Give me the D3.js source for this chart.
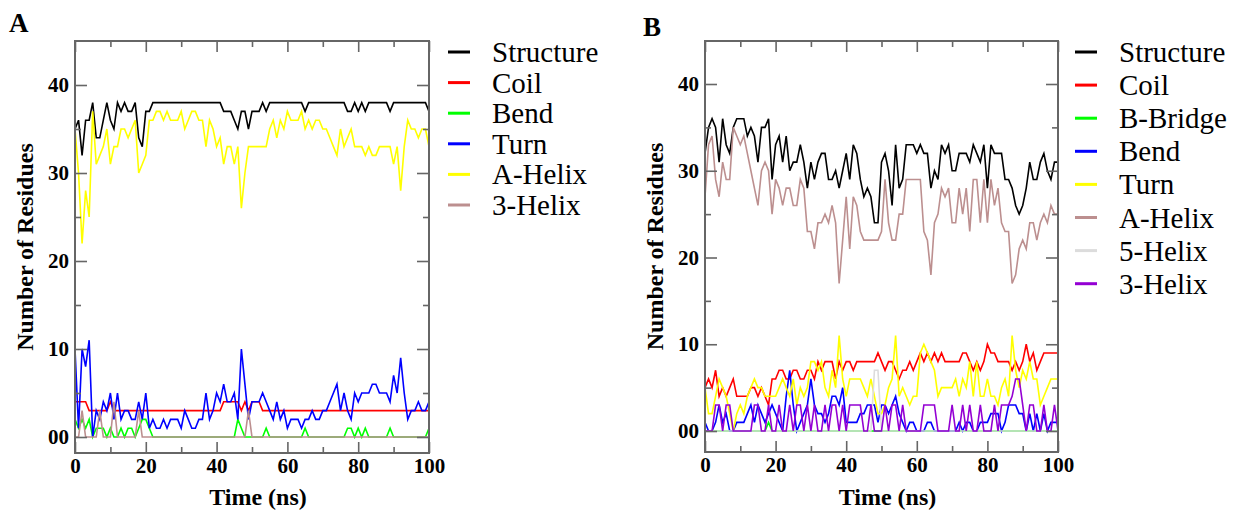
<!DOCTYPE html>
<html>
<head>
<meta charset="utf-8">
<script src="https://cdn.jsdelivr.net/npm/d3@7"></script>
<style>
    body { margin: 0; background: #fff; }
    svg { display: block; }
</style>
</head>
<body>
<div id="chart"></div>
<script>
// time axis (ns), one frame per ns
var time = d3.range(0, 101);
var xTicksMajor = [0, 20, 40, 60, 80, 100];
var xTicksMinor = [10, 30, 50, 70, 90];
var yTicksMajor = [0, 10, 20, 30, 40];
var yTicksMinor = [5, 15, 25, 35];

// ---- panel A data (number of residues) ----
var namesA = ["Structure", "Coil", "Bend", "Turn", "A-Helix", "3-Helix"];
var structA = [35,36,32,36,36,38,34,34,36,38, 36,35,38,37,38,37,37,38,34,33,
    37,37,38,38,38,38,38,38,38,38, 38,38,38,38,38,38,38,38,38,38,
    38,38,37,37,37,36,35,37,37,35, 37,37,37,38,37,38,38,38,38,38,
    38,38,38,38,38,37,38,38,38,38, 38,38,38,38,38,38,38,37,37,38,
    37,38,37,38,38,38,38,38,38,37, 38,38,38,38,38,38,38,38,38,38, 37];
var coilA = [4,4,4,4,3,3,3,3,3,3, 4,3,3,3,3,3,3,3,3,3,
    3,3,3,3,3,3,3,3,3,3, 3,3,3,3,3,3,3,3,3,3,
    3,3,4,4,4,4,4,3,4,3, 4,4,4,3,3,3,3,3,3,3,
    3,3,3,3,3,3,3,3,3,3, 3,3,3,3,3,3,3,3,3,3,
    3,3,3,3,3,3,3,3,3,3, 3,3,3,3,3,3,3,3,3,3, 3];
var bendA = [2,1,2,1,2,0,1,1,1,0, 1,0,0,1,0,1,1,0,1,2,
    2,1,0,0,0,0,0,0,0,0, 0,0,0,0,0,0,0,0,0,0,
    0,0,0,0,0,0,2,1,0,0, 0,0,0,0,1,0,0,0,0,0,
    0,0,0,0,0,1,0,0,0,0, 0,0,0,0,0,0,0,1,1,0,
    1,0,1,0,0,0,0,0,0,1, 0,0,0,0,0,0,0,0,0,0, 1];
var turnA = [10,1,10,8,11,0,3,2,4,3, 5,2,5,2,3,3,2,2,4,2,
    5,1,2,1,1,2,1,2,2,2, 1,3,2,1,1,2,2,5,2,3,
    5,4,6,4,4,5,2,10,6,2, 4,4,4,5,4,3,2,4,2,3,
    1,2,2,2,1,2,2,3,2,2, 3,3,4,5,6,3,5,3,2,5,
    4,5,5,5,6,6,5,5,5,4, 7,5,9,5,2,3,3,4,3,3, 4];
var aHelixA = [35,30,22,28,25,37,31,32,33,35, 31,33,33,35,35,34,35,36,30,31,
    32,36,36,37,37,36,37,36,36,36, 37,35,36,37,37,36,36,33,36,35,
    33,34,31,33,33,31,33,26,30,33, 33,33,33,33,33,35,36,34,36,35,
    37,36,36,36,37,35,36,35,36,36, 35,35,34,33,32,35,33,34,35,33,
    33,33,32,33,32,32,33,33,33,33, 31,33,28,33,36,35,35,34,35,35, 33];
var helix3A = [0,0,3,0,0,0,0,3,0,0, 0,4,0,0,0,0,0,0,3,0,
    0,0,0,0,0,0,0,0,0,0, 0,0,0,0,0,0,0,0,0,0,
    0,0,0,0,0,0,0,0,0,3, 0,0,0,0,0,0,0,0,0,0,
    0,0,0,0,0,0,0,0,0,0, 0,0,0,0,0,0,0,0,0,0,
    0,0,0,0,0,0,0,0,0,0, 0,0,0,0,0,0,0,0,0,0, 0];

// ---- panel B data (number of residues) ----
var namesB = ["Structure", "Coil", "B-Bridge", "Bend", "Turn", "A-Helix", "5-Helix", "3-Helix"];
var structB = [32,35,36,35,31,36,33,32,35,36, 36,36,34,35,34,31,35,35,36,29,
    33,34,31,34,30,31,31,33,31,28, 31,29,31,32,32,29,29,30,28,30,
    32,29,33,32,29,27,28,27,24,24, 31,32,30,26,33,28,29,33,33,33,
    32,33,32,32,28,30,29,33,32,33, 30,30,32,32,32,31,33,32,31,33,
    28,33,32,32,32,29,29,28,26,25, 26,28,31,29,29,31,32,30,29,31, 31];
var coilB = [5,6,5,7,4,5,4,5,6,4, 4,4,4,5,5,4,5,4,3,6,
    6,7,7,6,6,7,7,6,6,7, 7,6,8,7,8,8,8,6,8,7,
    8,8,7,8,8,8,8,8,8,9, 8,7,8,8,7,6,7,7,8,7,
    8,9,8,9,8,9,8,9,8,8, 8,8,8,9,9,8,7,8,7,8,
    10,9,9,8,8,8,8,7,8,7, 8,10,8,9,7,8,9,9,9,9, 9];
var bridgeB = [0,0,0,0,0,0,0,0,0,0, 0,0,0,0,0,0,0,0,1,0,
    0,0,0,0,0,0,0,0,0,0, 0,0,0,0,0,0,0,0,0,0,
    0,0,0,0,0,0,0,0,0,0, 0,0,0,0,0,0,0,0,0,0,
    0,0,0,0,0,0,0,0,0,0, 0,0,0,0,0,0,0,0,0,0,
    0,0,0,0,0,0,0,0,0,0, 0,0,0,0,0,0,0,0,0,0, 0];
var bendB = [1,0,0,1,3,1,2,0,0,1, 1,1,2,3,1,3,2,1,2,3,
    2,1,0,4,7,3,0,1,2,3, 6,3,2,2,1,2,4,4,3,5,
    1,1,1,1,2,2,3,3,3,1, 3,3,2,3,4,2,1,0,1,1,
    0,0,0,1,1,0,0,0,0,0, 0,0,1,0,1,1,0,0,1,1,
    1,2,2,2,0,1,3,3,3,2, 2,0,2,0,2,0,2,0,1,1, 1];
var turnB = [5,2,2,4,6,5,4,2,0,2, 3,2,4,5,6,5,5,4,4,4,
    4,5,6,5,4,6,3,5,4,5, 8,8,7,8,5,4,7,5,11,6,
    4,6,6,6,6,5,4,6,4,2, 2,3,5,6,11,4,5,4,3,4,
    4,9,10,9,8,7,4,5,5,5, 5,6,4,6,5,8,4,8,4,4,
    6,4,4,3,5,6,4,11,7,5, 7,6,8,6,6,3,4,5,6,6, 6];
var aHelixB = [27,33,34,29,27,31,29,29,35,34, 33,34,32,30,28,26,30,31,30,25,
    29,28,26,28,28,26,26,29,28,23, 23,21,24,24,25,24,26,24,17,22,
    27,21,27,26,23,22,22,22,22,22, 23,29,24,22,22,25,25,29,29,29,
    29,29,23,22,18,24,25,28,27,28, 24,24,28,25,28,23,29,29,24,29,
    24,29,26,28,24,23,23,17,18,21, 22,21,24,24,22,24,25,24,26,25, 25];
var helix5B = [0,0,0,0,0,0,0,0,0,0, 0,0,0,0,0,0,0,0,0,0,
    0,0,0,0,0,0,0,0,0,0, 0,0,0,0,0,0,0,0,0,0,
    0,0,0,0,0,0,0,0,7,7, 0,0,0,0,0,0,0,0,0,0,
    0,0,0,0,0,0,0,0,0,0, 0,0,0,0,0,0,0,0,0,0,
    0,0,0,0,0,0,0,0,0,0, 0,0,0,0,0,0,0,0,0,0, 0];
var helix3B = [0,0,0,3,3,0,3,3,0,0, 0,0,0,0,3,3,0,0,3,0,
    0,3,0,0,3,0,3,3,0,3, 0,3,0,0,3,0,3,3,0,3,
    0,3,3,3,3,0,0,3,0,0, 0,3,0,3,3,0,3,0,0,0,
    0,0,3,3,3,3,0,0,0,0, 3,0,0,3,0,3,0,0,3,0,
    0,0,3,0,3,3,3,4,6,6, 3,0,3,3,0,0,3,0,0,3, 0];

// grace-like line colours
var colorsA = ["#000000", "#ff0000", "#00ff00", "#0000ff", "#ffff00", "#bc8f8f"];
var colorsB = ["#000000", "#ff0000", "#00ff00", "#0000ff", "#ffff00", "#bc8f8f", "#dcdcdc", "#9400d3"];

var width = 1244, height = 515;
var serif = "'Liberation Serif', 'Times New Roman', serif";
var svg;

function init() {
    svg = d3.select("#chart").append("svg")
        .attr("width", width)
        .attr("height", height);

    drawPanel({
        id: "A", label: "A", labelX: 9, labelY: 32,
        left: 75, right: 429, top: 41, bottom: 453, y0: 437, y40: 85,
        names: namesA, colors: colorsA,
        series: [structA, coilA, bendA, turnA, aHelixA, helix3A],
        legendX: 448, legendY: 52, legendStep: 30.6, yLabelX: 33
    });

    drawPanel({
        id: "B", label: "B", labelX: 643, labelY: 36,
        left: 705, right: 1058, top: 41, bottom: 452, y0: 431, y40: 84,
        names: namesB, colors: colorsB,
        series: [structB, coilB, bridgeB, bendB, turnB, aHelixB, helix5B, helix3B],
        legendX: 1075, legendY: 52, legendStep: 33.1, yLabelX: 663
    });
}

function styleAxis(g) {
    g.select(".domain").remove();
    g.selectAll(".tick line").attr("stroke", "#666").attr("stroke-width", 1.6);
    g.selectAll(".tick text")
        .attr("font-family", serif)
        .attr("font-weight", "bold")
        .attr("font-size", 21)
        .attr("fill", "#000");
}

function drawPanel(p) {
    var x = d3.scaleLinear().domain([0, 100]).range([p.left, p.right]);
    var y = d3.scaleLinear().domain([0, 40]).range([p.y0, p.y40]);

    var g = svg.append("g").attr("class", "panel-" + p.id);

    // clip for the data lines
    g.append("clipPath").attr("id", "clip" + p.id)
        .append("rect")
        .attr("x", p.left).attr("y", p.top)
        .attr("width", p.right - p.left).attr("height", p.bottom - p.top);

    var line = d3.line()
        .x(function (d, i) { return x(time[i]); })
        .y(function (d) { return y(d); });

    var lines = g.append("g").attr("clip-path", "url(#clip" + p.id + ")");
    p.series.forEach(function (s, i) {
        lines.append("path")
            .datum(s)
            .attr("d", line)
            .attr("fill", "none")
            .attr("stroke", p.colors[i])
            .attr("stroke-width", 1.6)
            .attr("stroke-linejoin", "miter");
    });

    // axes: major + minor ticks, all pointing inwards
    var fmtY = function (d) { return d === 0 ? "00" : d; };
    g.append("g").attr("transform", "translate(" + p.left + ",0)")
        .call(d3.axisLeft(y).tickValues(yTicksMajor).tickSize(-12).tickPadding(6).tickFormat(fmtY))
        .call(styleAxis);
    g.append("g").attr("transform", "translate(" + p.left + ",0)")
        .call(d3.axisLeft(y).tickValues(yTicksMinor).tickSize(-6).tickFormat(""))
        .call(styleAxis);
    g.append("g").attr("transform", "translate(" + p.right + ",0)")
        .call(d3.axisRight(y).tickValues(yTicksMajor).tickSize(-12).tickFormat(""))
        .call(styleAxis);
    g.append("g").attr("transform", "translate(" + p.right + ",0)")
        .call(d3.axisRight(y).tickValues(yTicksMinor).tickSize(-6).tickFormat(""))
        .call(styleAxis);

    g.append("g").attr("transform", "translate(0," + p.bottom + ")")
        .call(d3.axisBottom(x).tickValues(xTicksMajor).tickSize(-11).tickPadding(5))
        .call(styleAxis);
    g.append("g").attr("transform", "translate(0," + p.bottom + ")")
        .call(d3.axisBottom(x).tickValues(xTicksMinor).tickSize(-6).tickFormat(""))
        .call(styleAxis);
    g.append("g").attr("transform", "translate(0," + p.top + ")")
        .call(d3.axisTop(x).tickValues(xTicksMajor).tickSize(-11).tickFormat(""))
        .call(styleAxis);
    g.append("g").attr("transform", "translate(0," + p.top + ")")
        .call(d3.axisTop(x).tickValues(xTicksMinor).tickSize(-6).tickFormat(""))
        .call(styleAxis);

    // frame
    g.append("rect")
        .attr("x", p.left).attr("y", p.top)
        .attr("width", p.right - p.left).attr("height", p.bottom - p.top)
        .attr("fill", "none")
        .attr("stroke", "#666")
        .attr("stroke-width", 2);

    // axis titles
    g.append("text")
        .attr("x", (p.left + p.right) / 2 + 6)
        .attr("y", 505)
        .attr("text-anchor", "middle")
        .attr("font-family", serif).attr("font-weight", "bold").attr("font-size", 24)
        .text("Time (ns)");

    g.append("text")
        .attr("transform", "translate(" + p.yLabelX + "," + ((p.top + p.bottom) / 2) + ") rotate(-90)")
        .attr("text-anchor", "middle")
        .attr("font-family", serif).attr("font-weight", "bold").attr("font-size", 24)
        .text("Number of Residues");

    // panel letter
    g.append("text")
        .attr("x", p.labelX).attr("y", p.labelY)
        .attr("font-family", serif).attr("font-weight", "bold").attr("font-size", 27)
        .text(p.label);

    // legend
    var leg = g.selectAll(".legend")
        .data(p.names)
        .enter().append("g")
        .attr("class", "legend")
        .attr("transform", function (d, i) {
            return "translate(" + p.legendX + "," + (p.legendY + i * p.legendStep) + ")";
        });
    leg.append("line")
        .attr("x1", 0).attr("x2", 22)
        .attr("stroke", function (d, i) { return p.colors[i]; })
        .attr("stroke-width", 3);
    leg.append("text")
        .attr("x", 44).attr("y", 10)
        .attr("font-family", serif).attr("font-size", 29)
        .text(function (d) { return d; });
}

init();
</script>
</body>
</html>
